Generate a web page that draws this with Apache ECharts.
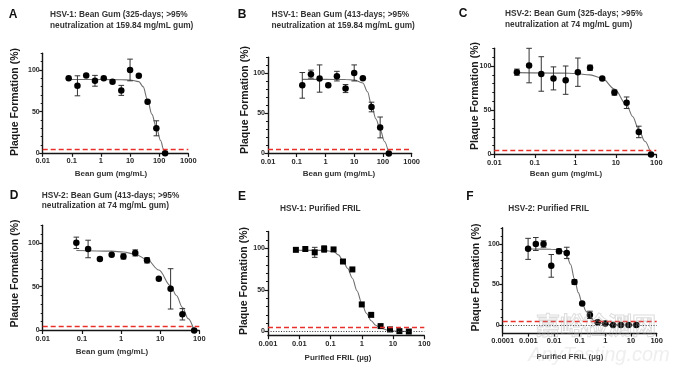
<!DOCTYPE html>
<html><head><meta charset="utf-8">
<script src="https://cdn.jsdelivr.net/npm/echarts@6/dist/echarts.min.js"></script>
<style>html,body{margin:0;padding:0;background:#fff}#c{width:680px;height:372px}</style>
</head><body><div id="c"></div>
<script>
// ---- Data ----
// Panel A: HSV-1 bean gum 325 days
const xA = [0.078, 0.156, 0.312, 0.624, 1.249, 2.497, 4.995, 9.99, 19.98, 39.96, 79.92, 159.84];
const yA = [90, 81, 93.5, 87, 90, 86, 75.5, 100, 93, 62, 30, 0];
const eA = [0, 12, 0, 6.5, 0, 0, 6, 13, 0, 0, 9, 0];
const fitXA = [0.078, 1, 5, 10, 20, 28, 40, 56, 80, 113, 140, 160];
const fitYA = [88.5, 88.5, 88.3, 88, 86, 80, 64, 47, 31, 15, 5, -1];
// Panel B: HSV-1 bean gum 413 days
const xB = [0.156, 0.312, 0.624, 1.249, 2.497, 4.995, 9.99, 19.98, 39.96, 79.92, 159.84];
const yB = [85, 99, 93.5, 85, 96.5, 81, 100.5, 94, 58, 32.5, 0];
const eB = [16, 5, 17, 0, 6, 5, 10, 0, 6, 13, 0];
const fitXB = [0.156, 1, 5, 10, 20, 29, 40, 57, 80, 113, 160];
const fitYB = [92.5, 92.5, 92.3, 91.5, 88, 77, 60, 43, 30, 15, -1];
// Panel C: HSV-2 bean gum 325 days
const xC = [0.0361, 0.0723, 0.1445, 0.289, 0.578, 1.156, 2.3125, 4.625, 9.25, 18.5, 37, 74];
const yC = [93, 100.5, 91, 86, 84, 93, 98, 86, 70, 58.5, 25.5, 0];
const eC = [3.5, 19.5, 19.5, 13, 16, 16, 3, 0, 3, 6.5, 6.5, 0];
const fitXC = [0.0361, 0.5, 1, 2.31, 4.6, 9.25, 18.5, 26, 37, 52, 74];
const fitYC = [92.5, 92, 91.5, 90, 86, 74, 56, 43, 28, 15, 0];
// Panel D: HSV-2 bean gum 413 days
const xD = [0.0723, 0.1445, 0.289, 0.578, 1.156, 2.3125, 4.625, 9.25, 18.5, 37, 74];
const yD = [100, 93, 81.5, 86.5, 84.5, 88.5, 80, 59, 47.5, 18.5, 0];
const eD = [6.5, 10, 0, 0, 3, 3.5, 3, 0, 23, 6.5, 0];
const fitXD = [0.0723, 0.578, 1.156, 2.31, 4.6, 9.25, 18.5, 26, 37, 52, 74];
const fitYD = [91.3, 90.5, 89.5, 87, 81, 69, 51, 40, 26.5, 13.5, -0.5];
// Panel E: HSV-1 purified FRIL
const xE = [0.0078, 0.0156, 0.03125, 0.0625, 0.125, 0.25, 0.5, 1, 2, 4, 8, 16, 32];
const yE = [98, 99, 95, 99, 98.5, 84, 74.5, 32.5, 20, 6.5, 2.5, 0.5, 0];
const eE = [0, 0, 6, 4, 0, 0, 0, 0, 0, 0, 0, 0, 0];
const fitXE = [0.0078, 0.0625, 0.125, 0.18, 0.25, 0.35, 0.5, 0.7, 1, 1.4, 2, 2.8, 4, 8, 16, 32];
const fitYE = [97.5, 97.3, 96, 92, 85, 76, 64, 49, 34, 22, 13, 7.5, 4, 1, 0.2, 0];
// Panel F: HSV-2 purified FRIL
const xF = [0.000977, 0.00195, 0.0039, 0.0078, 0.0156, 0.03125, 0.0625, 0.125, 0.25, 0.5, 1, 2, 4, 8, 16];
const yF = [94, 100, 100, 73, 91, 89, 53, 26.5, 12.5, 3.5, 2, 0, 0, 0, 0];
const eF = [13, 8, 4, 14, 3, 7, 3, 0, 4.5, 0, 0, 0, 0, 0, 0];
const fitXF = [0.000977, 0.0078, 0.0156, 0.022, 0.031, 0.044, 0.0625, 0.088, 0.125, 0.177, 0.25, 0.35, 0.5, 1, 2, 16];
const fitYF = [93.8, 93.6, 93, 91, 86, 75, 57, 40, 27, 17, 10, 5.5, 3, 1, 0.3, 0];

const yMajor = [0, 50, 100];
const yMinor = [10, 20, 30, 40, 60, 70, 80, 90, 110, 120];
const cutoff = 5;

// ---- Layout ----
const FF = "'Liberation Sans', Arial, sans-serif";
const panels = [
  {L:'A', x:xA, y:yA, e:eA, fx:fitXA, fy:fitYA, grid:{left:42.7, top:53.3, width:145.6, height:100}, xmin:0.01, xmax:1000, ymin:0, sym:'circle',
   letter:[13,15], title:['HSV-1: Bean Gum (325-days; >95%','neutralization at 159.84 mg/mL gum)'], tpos:[50,15], ytp:[15,102], xt:'Bean gum (mg/mL)', xtp:[111,173.5]},
  {L:'B', x:xB, y:yB, e:eB, fx:fitXB, fy:fitYB, grid:{left:268, top:57.3, width:143.7, height:96.2}, xmin:0.01, xmax:1000, ymin:0, sym:'circle',
   letter:[242,15], title:['HSV-1: Bean Gum (413-days; >95%','neutralization at 159.84 mg/mL gum)'], tpos:[271.5,15], ytp:[245.5,100], xt:'Bean gum (mg/mL)', xtp:[339,173.5]},
  {L:'C', x:xC, y:yC, e:eC, fx:fitXC, fy:fitYC, grid:{left:494.3, top:48.3, width:162, height:106.2}, xmin:0.01, xmax:100, ymin:0, sym:'circle',
   letter:[463,13.5], title:['HSV-2: Bean Gum (325-days; >95%','neutralization at 74 mg/mL gum)'], tpos:[505,14], ytp:[475,96], xt:'Bean gum (mg/mL)', xtp:[566,173.5]},
  {L:'D', x:xD, y:yD, e:eD, fx:fitXD, fy:fitYD, grid:{left:42.7, top:225.3, width:156.6, height:105.2}, xmin:0.01, xmax:100, ymin:0, sym:'circle',
   letter:[14,196], title:['HSV-2: Bean Gum (413-days; >95%','neutralization at 74 mg/mL gum)'], tpos:[41.7,195.5], ytp:[15,273.5], xt:'Bean gum (mg/mL)', xtp:[112,352]},
  {L:'E', x:xE, y:yE, e:eE, fx:fitXE, fy:fitYE, grid:{left:268, top:231.5, width:156.3, height:104.2}, xmin:0.001, xmax:100, ymin:-5, sym:'rect', zeroLine:true,
   letter:[242,197], title:['HSV-1: Purified FRIL'], tpos:[280,209], ytp:[244.5,281], xt:'Purified FRIL (µg)', xtp:[338,358]},
  {L:'F', x:xF, y:yF, e:eF, fx:fitXF, fy:fitYF, grid:{left:502.7, top:227.8, width:154, height:105.3}, xmin:0.0001, xmax:100, ymin:-10, sym:'circle', zeroLine:true,
   letter:[470,197], title:['HSV-2: Purified FRIL'], tpos:[508.3,209], ytp:[476.5,277.5], xt:'Purified FRIL (µg)', xtp:[570,357]}
];

const grids = [], xAxes = [], yAxes = [], series = [], graphics = [];
const AX = '#151515';
panels.forEach((p, i) => {
  grids.push(Object.assign({containLabel:false}, p.grid));
  xAxes.push({type:'log', logBase:10, gridIndex:i, min:p.xmin, max:p.xmax,
    axisLine:{show:true, onZero:false, lineStyle:{color:AX, width:1.4}},
    axisTick:{show:true, length:3.5, lineStyle:{color:AX, width:1.2}},
    axisLabel:{interval:0, fontSize:7.5, fontWeight:'bold', color:'#2a2a2a', fontFamily:FF, margin:4,
      formatter: v => String(+(+v).toPrecision(6))},
    splitLine:{show:false}, minorTick:{show:false}});
  yAxes.push({type:'value', gridIndex:i, min:p.ymin, max:120,
    axisLine:{show:true, onZero:false, lineStyle:{color:AX, width:1.4}},
    axisTick:{show:true, length:3.5, customValues:yMajor, lineStyle:{color:AX, width:1.2}},
    axisLabel:{customValues:yMajor, fontSize:7, fontWeight:'bold', color:'#2a2a2a', fontFamily:FF, margin:3},
    splitLine:{show:false}});
  yAxes.push({type:'value', gridIndex:i, min:p.ymin, max:120, position:'left', offset:0,
    axisLine:{show:false}, axisLabel:{show:false}, splitLine:{show:false},
    axisTick:{show:true, length:2, customValues:yMinor, lineStyle:{color:AX, width:1}}});

  const mlData = [{yAxis:cutoff}];
  if (p.zeroLine) mlData.push({yAxis:0, lineStyle:{color:'#333', type:[1,1.6], width:1}});
  // fitted curve
  series.push({type:'line', xAxisIndex:i, yAxisIndex:2*i, data:p.fx.map((x,k)=>[x,p.fy[k]]),
    showSymbol:false, smooth:0.35, smoothMonotone:'x', lineStyle:{color:'#6e6e6e', width:1.1}, z:2, silent:true,
    markLine:{silent:true, symbol:'none', label:{show:false}, animation:false,
      lineStyle:{color:'#e8302a', type:[5,3], width:1.4}, data:mlData}});
  // error bars
  series.push({type:'custom', xAxisIndex:i, yAxisIndex:2*i, z:3, silent:true,
    encode:{x:0, y:[1,2]},
    data:p.x.map((x,k)=>[x, p.y[k]-p.e[k], p.y[k]+p.e[k]]).filter(d=>d[2]-d[1]>0),
    renderItem:(params, api) => {
      const x = api.value(0);
      const a = api.coord([x, api.value(2)]), b = api.coord([x, api.value(1)]);
      const hw = 2.8, st = {stroke:'#333', lineWidth:1};
      return {type:'group', children:[
        {type:'line', shape:{x1:a[0], y1:a[1], x2:b[0], y2:b[1]}, style:st},
        {type:'line', shape:{x1:a[0]-hw, y1:a[1], x2:a[0]+hw, y2:a[1]}, style:st},
        {type:'line', shape:{x1:b[0]-hw, y1:b[1], x2:b[0]+hw, y2:b[1]}, style:st}]};
    }});
  // points
  series.push({type:'scatter', xAxisIndex:i, yAxisIndex:2*i, z:4, silent:true,
    symbol:p.sym, symbolSize:p.sym==='rect'?6:6.5, itemStyle:{color:'#000', opacity:1},
    data:p.x.map((x,k)=>[x,p.y[k]])});

  // texts
  graphics.push({type:'text', x:p.letter[0], y:p.letter[1], style:{text:p.L, font:`bold 12px ${FF}`, fill:'#111', align:'center', verticalAlign:'middle'}});
  p.title.forEach((t, k) => graphics.push({type:'text', x:p.tpos[0], y:p.tpos[1] + k*10.7,
    style:{text:t, font:`bold 8.3px ${FF}`, fill:'#333', align:'left', verticalAlign:'middle'}}));
  graphics.push({type:'text', x:p.ytp[0], y:p.ytp[1], rotation:Math.PI/2,
    style:{text:'Plaque Formation (%)', font:`bold 10.5px ${FF}`, fill:'#1a1a1a', align:'center', verticalAlign:'middle'}});
  graphics.push({type:'text', x:p.xtp[0], y:p.xtp[1],
    style:{text:p.xt, font:`bold 8px ${FF}`, fill:'#333', align:'center', verticalAlign:'middle'}});
});

// watermark seen over panel F
graphics.push({type:'text', x:596, y:325, z:100, style:{text:'嘉峪检测网', font:`bold 24px 'Noto Sans CJK SC', sans-serif`, fill:'rgba(255,255,255,0)', stroke:'rgba(170,170,170,0.4)', lineWidth:1, align:'center', verticalAlign:'middle'}});
graphics.push({type:'text', x:599, y:355, z:100, style:{text:'AnyTesting.com', font:`italic 20px ${FF}`, fill:'rgba(200,200,200,0.3)', align:'center', verticalAlign:'middle'}});

const chart = echarts.init(document.getElementById('c'), null, {renderer:'canvas'});
chart.setOption({animation:false, backgroundColor:'#fff', grid:grids, xAxis:xAxes, yAxis:yAxes, series:series, graphic:graphics});
</script></body></html>
